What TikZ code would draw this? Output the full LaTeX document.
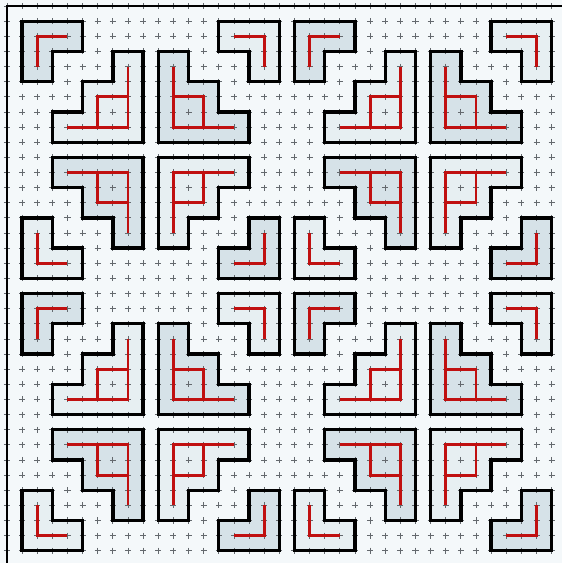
\documentclass[tikz,border=0pt]{standalone}
\usepackage{tikz}

\definecolor{grund}{RGB}{244,248,250}
\definecolor{dunkelblau}{RGB}{214,226,232}
\definecolor{hellblau}{RGB}{231,239,242}
\definecolor{kreuzgrau}{RGB}{100,105,110}
\definecolor{rotlinie}{RGB}{192,16,16}

\begin{document}
\begin{tikzpicture}[
      x=0.4cm, y=-0.4cm, % grid unit, y downwards
      rand/.style={line width=1.9pt, black}, % frame on top and left
      kachel/.style={draw=black, line width=2.5pt, line join=miter}, % outline of a tile
      linie/.style={rotlinie, line width=2.2pt}, % red inner lines
      kreuz/.style={kreuzgrau, line width=0.6pt}, % grid crosses
    ]

    % Größen
    \def\arm{0.2}
    \def\breite{36.68}
    \def\hoehe{36.81}

    % Hintergrund
    \useasboundingbox (-0.46,-0.40) rectangle (\breite,\hoehe);
    \fill[grund] (-0.46,-0.40) rectangle (\breite,\hoehe);

    % Kacheln, 2x2 Bloecke
    \foreach \ox in {0,18}
    \foreach \oy in {0,18}
    {
      \begin{scope}[shift={(\ox,\oy)}]
        \fill[dunkelblau] (1,1) -- (5,1) -- (5,3) -- (3,3) -- (3,5) -- (1,5) -- cycle;
        \fill[hellblau] (7,3) -- (9,3) -- (9,9) -- (3,9) -- (3,7) -- (5,7) -- (5,5) -- (7,5) -- cycle;
        \fill[hellblau] (14,1) -- (18,1) -- (18,5) -- (16,5) -- (16,3) -- (14,3) -- cycle;
        \fill[dunkelblau] (10,3) -- (12,3) -- (12,5) -- (14,5) -- (14,7) -- (16,7) -- (16,9) -- (10,9) -- cycle;
        \fill[dunkelblau] (3,10) -- (9,10) -- (9,16) -- (7,16) -- (7,14) -- (5,14) -- (5,12) -- (3,12) -- cycle;
        \fill[hellblau] (1,14) -- (3,14) -- (3,16) -- (5,16) -- (5,18) -- (1,18) -- cycle;
        \fill[hellblau] (10,10) -- (16,10) -- (16,12) -- (14,12) -- (14,14) -- (12,14) -- (12,16) -- (10,16) -- cycle;
        \fill[dunkelblau] (16,14) -- (18,14) -- (18,18) -- (14,18) -- (14,16) -- (16,16) -- cycle;
      \end{scope}
    }

    % Gitterkreuze
    \foreach \i in {0,...,36}
    \foreach \j in {0,...,36}
    \draw[kreuz] (\i-\arm,\j) -- (\i+\arm,\j) (\i,\j-\arm) -- (\i,\j+\arm);

    % Rand
    \draw[rand] (0,\hoehe) -- (0,0) -- (\breite,0);

    % Umrisse und rote Linien
    \foreach \ox in {0,18}
    \foreach \oy in {0,18}
    {
      \begin{scope}[shift={(\ox,\oy)}]
        \draw[kachel] (1,1) -- (5,1) -- (5,3) -- (3,3) -- (3,5) -- (1,5) -- cycle;
        \draw[kachel] (7,3) -- (9,3) -- (9,9) -- (3,9) -- (3,7) -- (5,7) -- (5,5) -- (7,5) -- cycle;
        \draw[kachel] (14,1) -- (18,1) -- (18,5) -- (16,5) -- (16,3) -- (14,3) -- cycle;
        \draw[kachel] (10,3) -- (12,3) -- (12,5) -- (14,5) -- (14,7) -- (16,7) -- (16,9) -- (10,9) -- cycle;
        \draw[kachel] (3,10) -- (9,10) -- (9,16) -- (7,16) -- (7,14) -- (5,14) -- (5,12) -- (3,12) -- cycle;
        \draw[kachel] (1,14) -- (3,14) -- (3,16) -- (5,16) -- (5,18) -- (1,18) -- cycle;
        \draw[kachel] (10,10) -- (16,10) -- (16,12) -- (14,12) -- (14,14) -- (12,14) -- (12,16) -- (10,16) -- cycle;
        \draw[kachel] (16,14) -- (18,14) -- (18,18) -- (14,18) -- (14,16) -- (16,16) -- cycle;

        \draw[linie] (4,2) -- (2,2) -- (2,4);
        \draw[linie] (8,4) -- (8,8) -- (4,8) (6,8) -- (6,6) -- (8,6);
        \draw[linie] (15,2) -- (17,2) -- (17,4);
        \draw[linie] (11,4) -- (11,8) -- (15,8) (11,6) -- (13,6) -- (13,8);
        \draw[linie] (4,11) -- (8,11) -- (8,15) (6,11) -- (6,13) -- (8,13);
        \draw[linie] (2,15) -- (2,17) -- (4,17);
        \draw[linie] (11,15) -- (11,11) -- (15,11) (11,13) -- (13,13) -- (13,11);
        \draw[linie] (17,15) -- (17,17) -- (15,17);
      \end{scope}
    }

  \end{tikzpicture}
\end{document}
